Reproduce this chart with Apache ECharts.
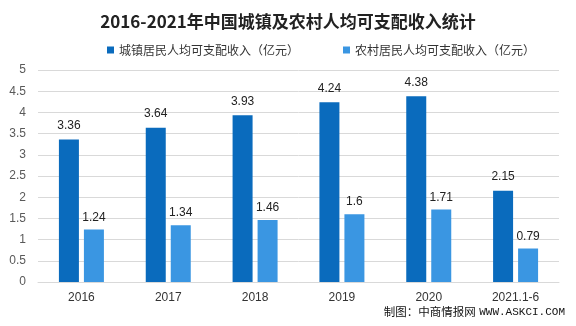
<!DOCTYPE html>
<html>
<head>
<meta charset="utf-8">
<script src="https://cdn.jsdelivr.net/npm/echarts@6/dist/echarts.min.js"></script>
<style>
  html, body { margin: 0; padding: 0; background: #fff; }
  #chart { width: 576px; height: 326px; }
</style>
</head>
<body>
<div id="chart"></div>
<script>
  // 数据
  var categories = ['2016', '2017', '2018', '2019', '2020', '2021.1-6']
  var urbanIncome = [3.36, 3.64, 3.93, 4.24, 4.38, 2.15]
  var ruralIncome = [1.24, 1.34, 1.46, 1.6, 1.71, 0.79]
  var seriesNames = ['城镇居民人均可支配收入（亿元）', '农村居民人均可支配收入（亿元）']
  var yTicks = [0, 0.5, 1, 1.5, 2, 2.5, 3, 3.5, 4, 4.5, 5]

  var chart = echarts.init(document.getElementById('chart'))

  var option = {
    backgroundColor: '#fff',
    animation: false,
    textStyle: {
      fontFamily: 'Noto Sans CJK SC'
    },
    title: {
      text: '2016-2021年中国城镇及农村人均可支配收入统计',
      left: 'center',
      top: 8,
      textStyle: {
        fontSize: 17,
        fontWeight: 'bold',
        color: '#222'
      }
    },
    legend: {
      top: 39,
      left: 102,
      itemWidth: 7,
      itemHeight: 7,
      itemGap: 44,
      icon: 'rect',
      textStyle: {
        fontSize: 12,
        color: '#333'
      },
      data: seriesNames
    },
    grid: {
      left: 38,
      right: 17,
      top: 70,
      bottom: 44
    },
    xAxis: {
      type: 'category',
      data: categories,
      axisLine: {
        lineStyle: { color: '#d9d9d9' }
      },
      axisTick: { show: false },
      axisLabel: {
        color: '#333',
        fontSize: 12,
        margin: 10,
        fontFamily: 'Liberation Sans'
      }
    },
    yAxis: {
      type: 'value',
      min: yTicks[0],
      max: yTicks[yTicks.length - 1],
      interval: 0.5,
      axisLine: { show: false },
      axisTick: { show: false },
      splitLine: {
        lineStyle: { color: '#d9d9d9' }
      },
      axisLabel: {
        color: '#595959',
        fontSize: 12,
        margin: 12,
        fontFamily: 'Liberation Sans'
      }
    },
    series: [{
      name: seriesNames[0],
      type: 'bar',
      data: urbanIncome,
      barWidth: 20,
      barGap: '25%',
      itemStyle: { color: '#0a6bbd' },
      label: {
        show: true,
        position: 'top',
        distance: 8,
        color: '#222',
        fontSize: 12,
        fontFamily: 'Liberation Sans'
      }
    }, {
      name: seriesNames[1],
      type: 'bar',
      data: ruralIncome,
      barWidth: 20,
      itemStyle: { color: '#3a96e2' },
      label: {
        show: true,
        position: 'top',
        distance: 6,
        color: '#222',
        fontSize: 12,
        fontFamily: 'Liberation Sans'
      }
    }],
    graphic: [{
      type: 'text',
      right: 11,
      top: 306,
      style: {
        text: '{a|制图：中商情报网} {b|WWW.ASKCI.COM}',
        rich: {
          a: { fontSize: 11.5, fill: '#111', fontFamily: 'Noto Sans CJK SC' },
          b: { fontSize: 11, fill: '#111', fontFamily: 'Liberation Mono' }
        }
      }
    }]
  }

  chart.setOption(option)
</script>
</body>
</html>
